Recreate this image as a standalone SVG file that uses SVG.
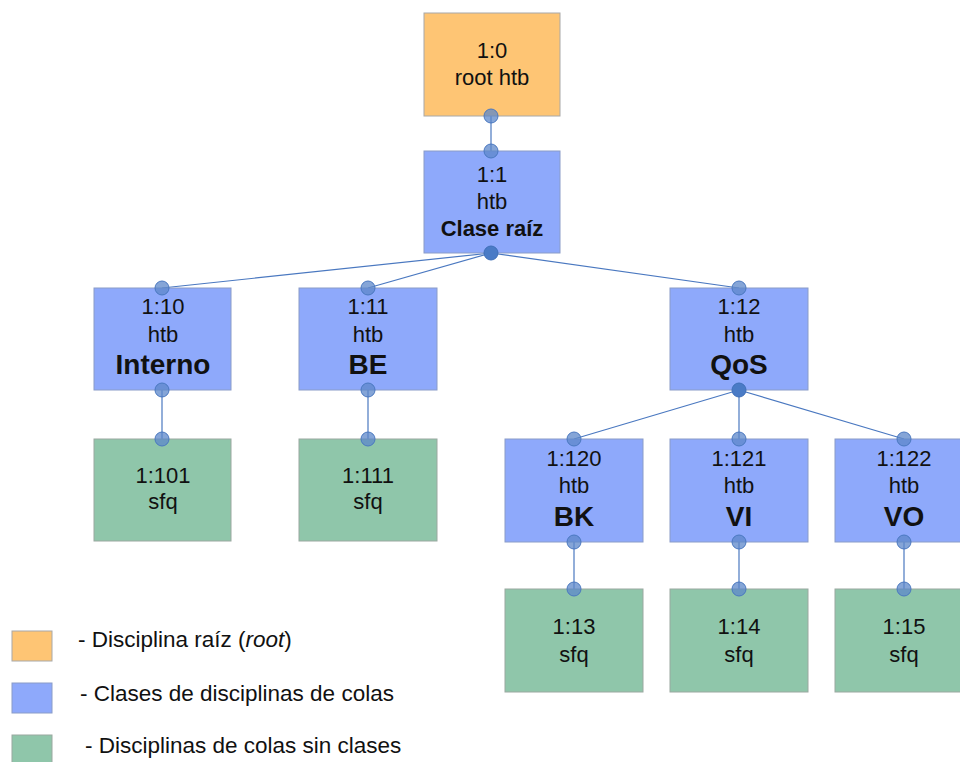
<svg xmlns="http://www.w3.org/2000/svg" width="960" height="762" viewBox="0 0 960 762">
<style>
.root{fill:#fec574;stroke:#a8a8a8;stroke-width:1}
.cls{fill:#8ea9fb;stroke:#8a9cc8;stroke-width:1}
.leaf{fill:#8fc6aa;stroke:#9aa8a0;stroke-width:1}
text{font-family:"Liberation Sans",Arial,sans-serif;fill:#111;text-anchor:middle}
.t{font-size:22px}
.b{font-weight:bold;font-size:28px}
.c{fill:#5c87c9;fill-opacity:0.75;stroke:#4a78c0;stroke-width:1}
.cd{fill:#4a7bc6;stroke:#3f6fb8;stroke-width:1}
.ln{stroke:#4a78c0;stroke-width:1.2;fill:none}
.lg{font-size:22.5px;text-anchor:start}
</style>
<g id="connectors">
<line class="ln" x1="491" y1="116" x2="491" y2="151"/>
<line class="ln" x1="491" y1="253" x2="162" y2="288"/>
<line class="ln" x1="491" y1="253" x2="368" y2="288"/>
<line class="ln" x1="491" y1="253" x2="739" y2="288"/>
<line class="ln" x1="162" y1="390" x2="162" y2="439"/>
<line class="ln" x1="368" y1="390" x2="368" y2="439"/>
<line class="ln" x1="739" y1="390" x2="574" y2="439"/>
<line class="ln" x1="739" y1="390" x2="739" y2="439"/>
<line class="ln" x1="739" y1="390" x2="904" y2="439"/>
<line class="ln" x1="574" y1="542" x2="574" y2="589"/>
<line class="ln" x1="739" y1="542" x2="739" y2="589"/>
<line class="ln" x1="904" y1="542" x2="904" y2="589"/>
</g>
<g id="n10">
<rect class="root" x="424" y="13" width="136" height="103"/>
<text class="t" x="492" y="58">1:0</text>
<text class="t" x="492" y="85">root htb</text>
</g>
<g id="n11">
<rect class="cls" x="424" y="151" width="136" height="102"/>
<text class="t" x="492" y="182">1:1</text>
<text class="t" x="492" y="209">htb</text>
<text class="t" x="492" y="236" font-weight="bold">Clase raíz</text>
</g>
<g id="n110">
<rect class="cls" x="94" y="288" width="137" height="102"/>
<text class="t" x="163" y="314">1:10</text>
<text class="t" x="163" y="342">htb</text>
<text class="b" x="163" y="374">Interno</text>
</g>
<g id="n111">
<rect class="cls" x="299" y="288" width="138" height="102"/>
<text class="t" x="368" y="314">1:11</text>
<text class="t" x="368" y="342">htb</text>
<text class="b" x="368" y="374">BE</text>
</g>
<g id="n112">
<rect class="cls" x="670" y="288" width="138" height="102"/>
<text class="t" x="739" y="314">1:12</text>
<text class="t" x="739" y="342">htb</text>
<text class="b" x="739" y="374">QoS</text>
</g>
<g id="n1101">
<rect class="leaf" x="94" y="439" width="137" height="102"/>
<text class="t" x="163" y="483">1:101</text>
<text class="t" x="163" y="509">sfq</text>
</g>
<g id="n1111">
<rect class="leaf" x="299" y="439" width="138" height="102"/>
<text class="t" x="368" y="483">1:111</text>
<text class="t" x="368" y="509">sfq</text>
</g>
<g id="n1120">
<rect class="cls" x="505" y="439" width="138" height="103"/>
<text class="t" x="574" y="466">1:120</text>
<text class="t" x="574" y="493">htb</text>
<text class="b" x="574" y="526">BK</text>
</g>
<g id="n1121">
<rect class="cls" x="670" y="439" width="138" height="103"/>
<text class="t" x="739" y="466">1:121</text>
<text class="t" x="739" y="493">htb</text>
<text class="b" x="739" y="526">VI</text>
</g>
<g id="n1122">
<rect class="cls" x="835" y="439" width="138" height="103"/>
<text class="t" x="904" y="466">1:122</text>
<text class="t" x="904" y="493">htb</text>
<text class="b" x="904" y="526">VO</text>
</g>
<g id="n113">
<rect class="leaf" x="505" y="589" width="138" height="103"/>
<text class="t" x="574" y="634">1:13</text>
<text class="t" x="574" y="662">sfq</text>
</g>
<g id="n114">
<rect class="leaf" x="670" y="589" width="138" height="103"/>
<text class="t" x="739" y="634">1:14</text>
<text class="t" x="739" y="662">sfq</text>
</g>
<g id="n115">
<rect class="leaf" x="835" y="589" width="138" height="103"/>
<text class="t" x="904" y="634">1:15</text>
<text class="t" x="904" y="662">sfq</text>
</g>
<g id="ports">
<circle class="c" cx="491" cy="116" r="7"/>
<circle class="c" cx="491" cy="151" r="7"/>
<circle class="cd" cx="491" cy="253" r="7"/>
<circle class="c" cx="162" cy="288" r="7"/>
<circle class="c" cx="368" cy="288" r="7"/>
<circle class="c" cx="739" cy="288" r="7"/>
<circle class="c" cx="162" cy="390" r="7"/>
<circle class="c" cx="368" cy="390" r="7"/>
<circle class="cd" cx="739" cy="390" r="7"/>
<circle class="c" cx="162" cy="439" r="7"/>
<circle class="c" cx="368" cy="439" r="7"/>
<circle class="c" cx="574" cy="439" r="7"/>
<circle class="c" cx="739" cy="439" r="7"/>
<circle class="c" cx="904" cy="439" r="7"/>
<circle class="c" cx="574" cy="542" r="7"/>
<circle class="c" cx="739" cy="542" r="7"/>
<circle class="c" cx="904" cy="542" r="7"/>
<circle class="c" cx="574" cy="589" r="7"/>
<circle class="c" cx="739" cy="589" r="7"/>
<circle class="c" cx="904" cy="589" r="7"/>
</g>
<g id="legend">
<rect class="root" x="12" y="631" width="40" height="30"/>
<rect class="cls" x="12" y="683" width="40" height="30"/>
<rect class="leaf" x="12" y="735" width="40" height="30"/>
<text class="lg" x="78" y="647">- Disciplina raíz (<tspan font-style="italic">root</tspan>)</text>
<text class="lg" x="80" y="701">- Clases de disciplinas de colas</text>
<text class="lg" x="85" y="753">- Disciplinas de colas sin clases</text>
</g>
</svg>
